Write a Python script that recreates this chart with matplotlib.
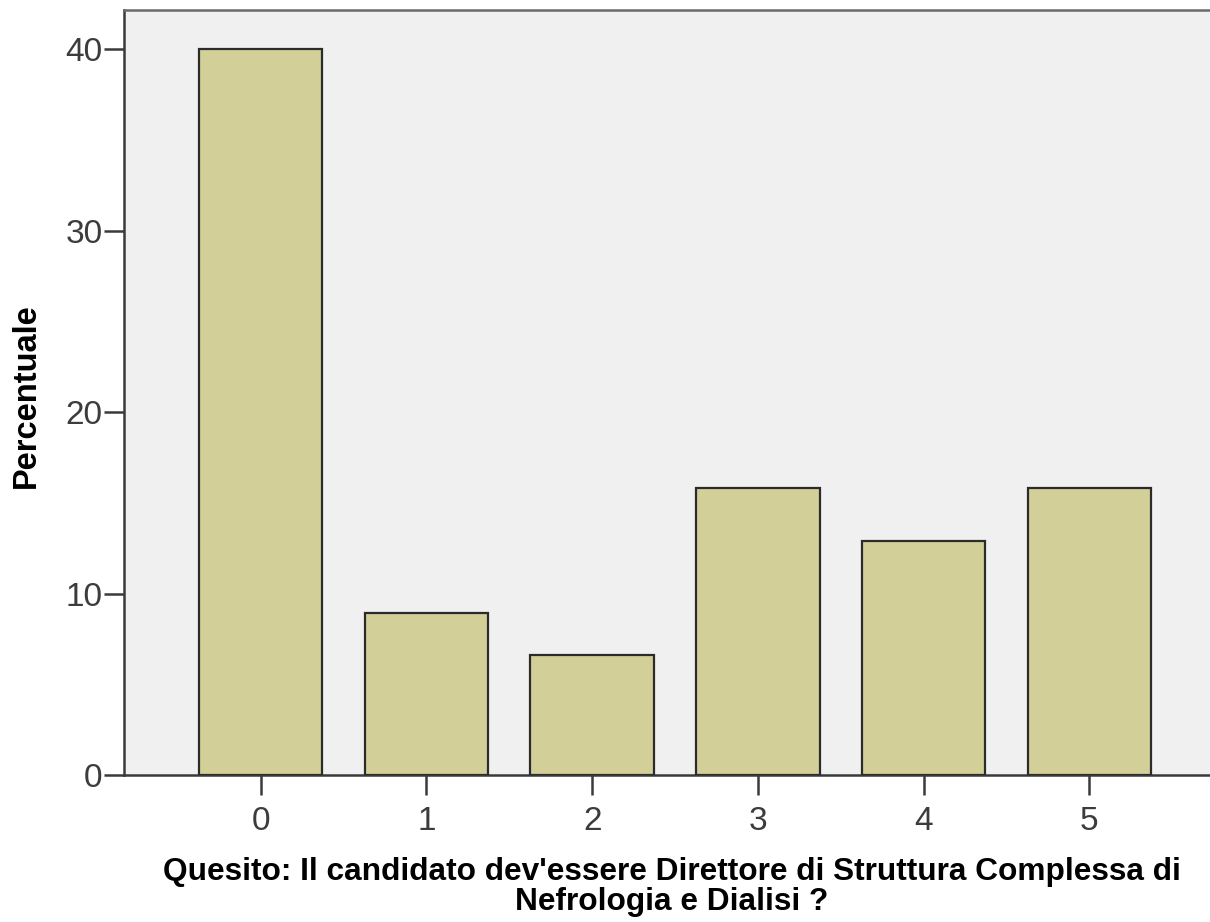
import matplotlib.pyplot as plt

plt.rcParams['font.family'] = ['Liberation Sans', 'DejaVu Sans']

categories = ['0', '1', '2', '3', '4', '5']
percent = [40.0, 8.9, 6.6, 15.8, 12.9, 15.8]

fig = plt.figure(figsize=(12.1, 9.22), dpi=100)
ax = fig.add_axes([124 / 1210, 1 - 775 / 922, 1 - 124 / 1210, (775 - 10) / 922])
ax.set_facecolor('#f0f0f0')

x = range(len(categories))
ax.bar(x, percent, width=0.745, color='#d3cf98', edgecolor='#2b2b2b', linewidth=1.6, zorder=3)

ax.set_xlim(-0.824, 5.727)
ax.set_ylim(0, 42.15)
ax.set_xticks(list(x))
ax.set_xticklabels(categories)
ax.set_yticks([0, 10, 20, 30, 40])

for side in ('left', 'bottom', 'top'):
    ax.spines[side].set_color('#3a3a3a')
    ax.spines[side].set_linewidth(1.8)
ax.spines['right'].set_visible(False)
ax.spines['top'].set_color('#6a6a6a')

ax.tick_params(axis='both', direction='out', length=14.5, width=1.8, color='#3a3a3a',
               labelsize=24, labelcolor='#3c3c3c')
ax.tick_params(axis='x', pad=8)
ax.tick_params(axis='y', pad=1)

ax.set_ylabel('Percentuale', fontsize=23.5, fontweight='bold')
ax.yaxis.set_label_coords(-(124 - 42) / 1086, (775 - 396) / 765)
ax.set_xlabel("Quesito: Il candidato dev'essere Direttore di Struttura Complessa di\nNefrologia e Dialisi ?",
              fontsize=22.8, fontweight='bold', linespacing=1.0)
ax.xaxis.set_label_coords((672 - 124) / 1086, -(857 - 775) / 765)

fig.savefig('out.png', dpi=100)
